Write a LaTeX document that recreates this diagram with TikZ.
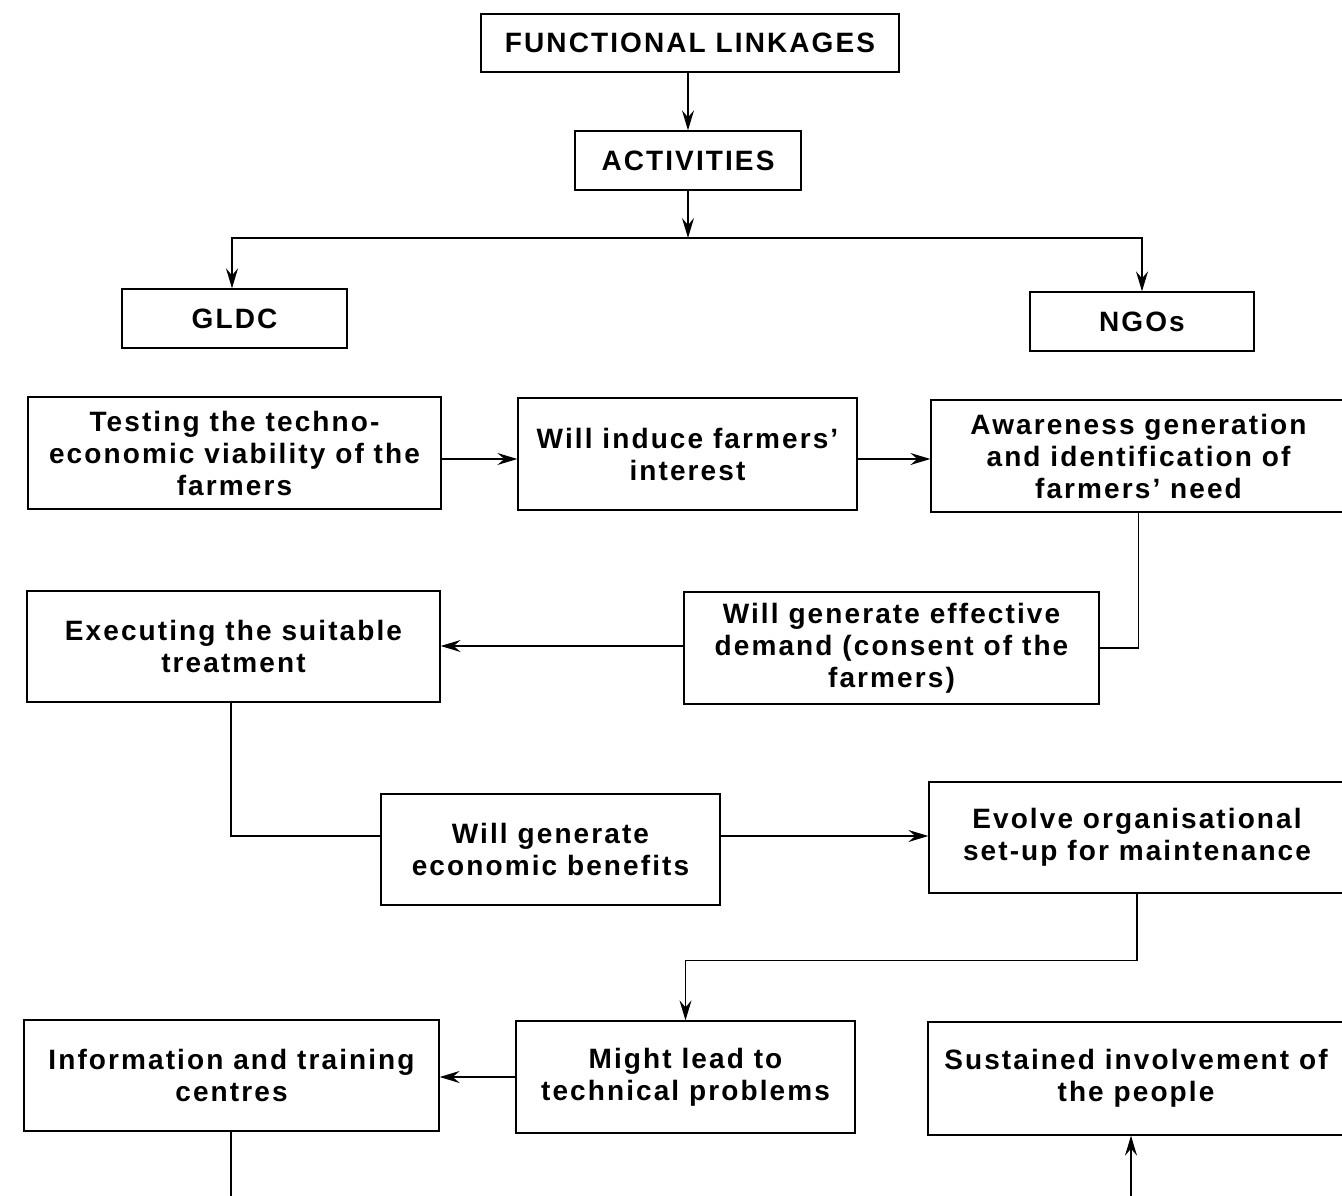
\documentclass[tikz,border=0pt]{standalone}
\usepackage{fontspec}
\setmainfont{Liberation Sans}[LetterSpace=7.5]
\usetikzlibrary{arrows.meta}
\tikzset{
  box/.style={draw, line width=1.3pt, align=center, inner sep=0pt,
    font=\fontsize{28}{32}\selectfont\bfseries},
  conn/.style={line width=1.2pt},
  arr/.style={conn, -{Stealth[length=20pt,width=12pt,inset=7pt]}}
}
\begin{document}
\begin{tikzpicture}[x=1pt,y=-1pt]
\useasboundingbox (0,0) rectangle (1342,1196);
\clip (0,0) rectangle (1342,1196);
\node[box, minimum width=418pt, minimum height=58pt] (fl) at (690,43) {FUNCTIONAL LINKAGES};
\node[box, minimum width=226pt, minimum height=59pt] (act) at (688,160.5) {ACTIVITIES};
\node[box, minimum width=225pt, minimum height=59pt] (gldc) at (234.5,318.5) {GLDC};
\node[box, minimum width=224pt, minimum height=59pt] (ngo) at (1142,321.5) {NGOs};
\node[box, minimum width=413pt, minimum height=112pt] (test) at (234.5,453) {Testing the techno-\\economic viability of the\\farmers};
\node[box, minimum width=339pt, minimum height=112pt] (induce) at (687.5,454) {Will induce farmers’\\interest};
\node[box, minimum width=415pt, minimum height=112pt] (aware) at (1138.5,456) {Awareness generation\\and identification of\\farmers’ need};
\node[box, minimum width=415pt, minimum height=112pt] (wged) at (891.5,648) {Will generate effective\\demand (consent of the\\farmers)};
\node[box, minimum width=413pt, minimum height=111pt] (exec) at (233.5,646.5) {Executing the suitable\\treatment};
\node[box, minimum width=339pt, minimum height=111pt] (econ) at (550.5,849.5) {Will generate\\economic benefits};
\node[box, minimum width=416pt, minimum height=111pt] (evolve) at (1137,837.5) {Evolve organisational\\set-up for maintenance};
\node[box, minimum width=339pt, minimum height=112pt] (might) at (685.5,1077) {Might lead to\\technical problems};
\node[box, minimum width=415pt, minimum height=111pt] (info) at (231.5,1075.5) {Information and training\\centres};
\node[box, minimum width=416pt, minimum height=113pt] (sus) at (1136,1078.5) {Sustained involvement of\\the people};

\coordinate (split) at (688,238);
\draw[arr] (fl.south -| act.north) -- (act.north);
\draw[arr] (act.south) -- (split);
\draw[arr] (split) -| ([xshift=-2.5pt]gldc.north);
\draw[arr] (split) -| (ngo.north);
\draw[arr] ([yshift=-6pt]test.east) -- ([yshift=-6pt]test.east -| induce.west);
\draw[arr] ([yshift=-5pt]induce.east) -- ([yshift=-5pt]induce.east -| aware.west);
\draw[conn] (aware.south) |- (wged.east);
\draw[arr] ([yshift=2pt]wged.west) -- ([yshift=2pt]wged.west -| exec.east);
\coordinate (c1) at (231,836);
\draw[conn] (exec.south -| c1) -- (c1) -- (c1 -| econ.west);
\draw[arr] (c1 -| econ.east) -- (c1 -| evolve.west);
\draw[arr] (evolve.south) -- ++(0,67) -| (might.north);
\draw[arr] (might.west) -- (might.west -| info.east);
\coordinate (b1) at (231,1196);
\draw[conn] (info.south -| b1) -- (b1);
\coordinate (b2) at (1131,1196);
\draw[arr] (b2) -- (b2 |- sus.south);
\end{tikzpicture}
\end{document}
